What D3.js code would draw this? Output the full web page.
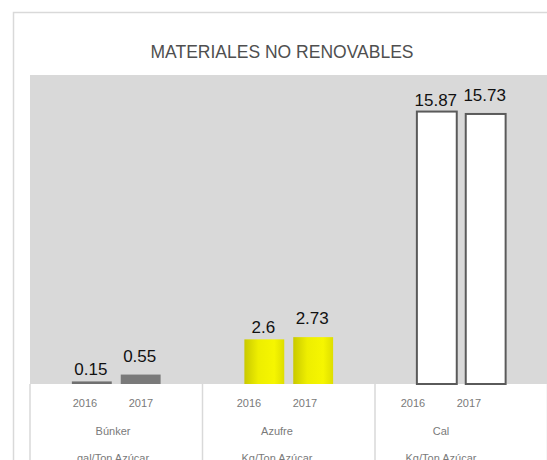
<!DOCTYPE html>
<html>
<head>
<meta charset="utf-8">
<script src="https://cdn.jsdelivr.net/npm/d3@7"></script>
<style>
  body { margin: 0; background: #fff; }
  text { font-family: "Liberation Sans", Arial, sans-serif; }
</style>
</head>
<body>
<script>
  const categories = ["Búnker", "Azufre", "Cal"];
  const units = ["gal/Ton Azúcar", "Kg/Ton Azúcar", "Kg/Ton Azúcar"];
  const years = ["2016", "2017"];
  const values2016 = [0.15, 2.6, 15.87];
  const values2017 = [0.55, 2.73, 15.73];

  const w = 547;
  const h = 460;

  const rows = [];
  categories.forEach((c, i) => {
    rows.push({ cat: c, year: "2016", value: values2016[i] });
    rows.push({ cat: c, year: "2017", value: values2017[i] });
  });

  const svg = d3.select("body")
    .append("svg")
    .attr("width", w)
    .attr("height", h);

  const defs = svg.append("defs");
  const grad = defs.append("linearGradient")
    .attr("id", "yellow")
    .attr("x1", "0").attr("x2", "1").attr("y1", "0").attr("y2", "0");
  grad.append("stop").attr("offset", "0%").attr("stop-color", "#c9c900");
  grad.append("stop").attr("offset", "35%").attr("stop-color", "#eeee00");
  grad.append("stop").attr("offset", "75%").attr("stop-color", "#f6f600");
  grad.append("stop").attr("offset", "100%").attr("stop-color", "#dede00");

  // chart frame
  svg.append("rect")
    .attr("x", 13.5).attr("y", 12.5)
    .attr("width", w).attr("height", h)
    .attr("fill", "#fff")
    .attr("stroke", "#d9d9d9")
    .attr("stroke-width", 1.5);

  const plotTop = 75;
  const plotBottom = 384;

  const x0 = d3.scaleBand()
    .domain(categories)
    .range([30, 547.5]);

  const x1 = d3.scaleBand()
    .domain(years)
    .range([0, x0.bandwidth()])
    .paddingInner(0.184)
    .paddingOuter(0.857);

  // axis text sits on a slightly narrower band than the bars
  const xLab = d3.scaleBand()
    .domain(categories)
    .range([31, 523]);

  const y = d3.scaleLinear()
    .domain([0, 18])
    .range([plotBottom, plotTop]);

  svg.append("rect")
    .attr("x", 30).attr("y", plotTop)
    .attr("width", w - 30).attr("height", plotBottom - plotTop)
    .attr("fill", "#d9d9d9");

  svg.append("text")
    .attr("x", 282)
    .attr("y", 58)
    .attr("text-anchor", "middle")
    .attr("fill", "#4f4f4f")
    .attr("font-size", 18)
    .attr("textLength", 263)
    .attr("lengthAdjust", "spacingAndGlyphs")
    .text("MATERIALES NO RENOVABLES");

  const fills = {
    "Búnker": { "2016": "#707070", "2017": "#7a7a7a" },
    "Azufre": { "2016": "url(#yellow)", "2017": "url(#yellow)" },
    "Cal": { "2016": "#ffffff", "2017": "#ffffff" }
  };
  const labelGap = { "2016": 6, "2017": 13 };

  svg.selectAll("rect.bar")
    .data(rows)
    .enter()
    .append("rect")
    .attr("class", "bar")
    .attr("x", (d) => x0(d.cat) + x1(d.year))
    .attr("y", (d) => y(d.value))
    .attr("width", x1.bandwidth())
    .attr("height", (d) => plotBottom - y(d.value))
    .attr("fill", (d) => fills[d.cat][d.year])
    .attr("stroke", (d) => d.cat === "Cal" ? "#5a5a5a" : "none")
    .attr("stroke-width", 2);

  svg.selectAll("text.val")
    .data(rows)
    .enter()
    .append("text")
    .attr("class", "val")
    .attr("x", (d) => x0(d.cat) + x1(d.year) + x1.bandwidth() / 2 - 1)
    .attr("y", (d) => y(d.value) - labelGap[d.year])
    .attr("text-anchor", "middle")
    .attr("font-size", 17)
    .attr("fill", "#111")
    .text((d) => d.value);

  // category axis separators
  const seps = categories.map((c) => x0(c)).concat([x0.range()[1]]);
  svg.selectAll("line.sep")
    .data(seps)
    .enter()
    .append("line")
    .attr("class", "sep")
    .attr("x1", (d) => d).attr("x2", (d) => d)
    .attr("y1", plotBottom).attr("y2", h)
    .attr("stroke", "#d9d9d9")
    .attr("stroke-width", 1.5);

  svg.selectAll("text.year")
    .data(rows)
    .enter()
    .append("text")
    .attr("class", "year")
    .attr("x", (d) => xLab(d.cat) + xLab.bandwidth() / 2 + (d.year === "2016" ? -28 : 28))
    .attr("y", 407)
    .attr("text-anchor", "middle")
    .attr("font-size", 11)
    .attr("fill", "#7a7a7a")
    .text((d) => d.year);

  svg.selectAll("text.cat")
    .data(categories)
    .enter()
    .append("text")
    .attr("class", "cat")
    .attr("x", (d) => xLab(d) + xLab.bandwidth() / 2)
    .attr("y", 435)
    .attr("text-anchor", "middle")
    .attr("font-size", 11)
    .attr("fill", "#7a7a7a")
    .text((d) => d);

  svg.selectAll("text.unit")
    .data(units)
    .enter()
    .append("text")
    .attr("class", "unit")
    .attr("x", (d, i) => xLab(categories[i]) + xLab.bandwidth() / 2)
    .attr("y", 462)
    .attr("text-anchor", "middle")
    .attr("font-size", 11)
    .attr("fill", "#7a7a7a")
    .text((d) => d);
</script>
</body>
</html>
